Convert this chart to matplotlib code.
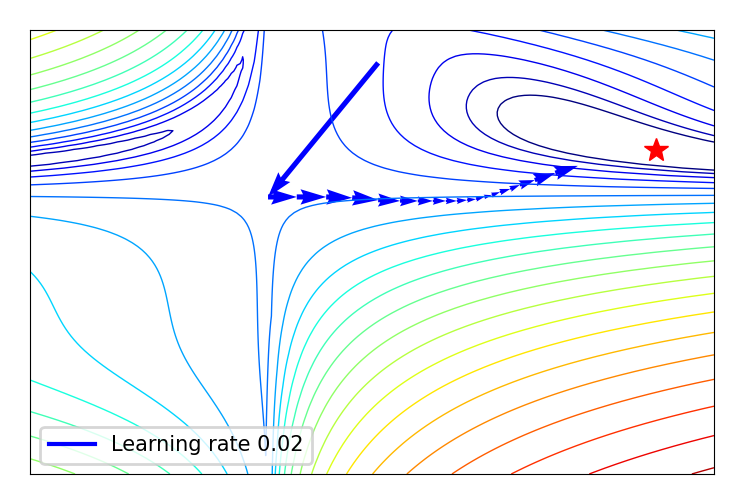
import numpy as np
import matplotlib
matplotlib.use('Agg')
import matplotlib.pyplot as plt
from matplotlib.colors import LogNorm

# gradient descent path (x right, y down)
path_fx = [0.509, 0.348, 0.390, 0.433, 0.471, 0.509, 0.541, 0.567, 0.589, 0.608,
           0.624, 0.639, 0.652, 0.664, 0.675, 0.687, 0.702, 0.716, 0.738, 0.768, 0.801]
path_fy = [0.074, 0.376, 0.376, 0.376, 0.378, 0.383, 0.385, 0.385, 0.385, 0.385,
           0.385, 0.383, 0.381, 0.376, 0.372, 0.365, 0.358, 0.349, 0.338, 0.322, 0.306]
star_f = (0.915, 0.27)
label = 'Learning rate 0.02'
xlim = (-1.86, 3.45)
ylim = (4.15, -0.85)


def beale(x, y):
    return (1.5 - x + x * y) ** 2 + (2.25 - x + x * y ** 2) ** 2 + (2.625 - x + x * y ** 3) ** 2


def surface(x, y):
    # left half mirrored about y=1 (beale is constant on x=0)
    return np.where(x >= 0, beale(x, y), beale(x, 2 - y))


def to_data(fx, fy):
    fx = np.asarray(fx)
    fy = np.asarray(fy)
    return xlim[0] + fx * (xlim[1] - xlim[0]), ylim[1] + fy * (ylim[0] - ylim[1])


xx, yy = np.meshgrid(np.linspace(*xlim, 120), np.linspace(ylim[1], ylim[0], 120))
zz = surface(xx, yy)

fig = plt.figure(figsize=(7.44, 5.04), dpi=100)
ax = fig.add_axes([30 / 744, 30 / 504, 684 / 744, 444 / 504])
ax.contour(xx, yy, zz, levels=np.logspace(0, 5, 22), norm=LogNorm(), cmap='jet', linewidths=1)

px, py = to_data(path_fx, path_fy)
ax.quiver(px[:-1], py[:-1], px[1:] - px[:-1], py[1:] - py[:-1],
          scale_units='xy', angles='xy', scale=1, color='blue')
ax.plot([], [], color='blue', lw=3, label=label)
sx, sy = to_data(*star_f)
ax.plot(sx, sy, 'r*', markersize=18)

ax.set_xlim(*xlim)
ax.set_ylim(*ylim)
ax.set_xticks([])
ax.set_yticks([])
leg = ax.legend(loc='lower left', fontsize=15, framealpha=0.8, handlelength=2.2)
leg.get_frame().set_linewidth(2)
fig.savefig('out.png')
